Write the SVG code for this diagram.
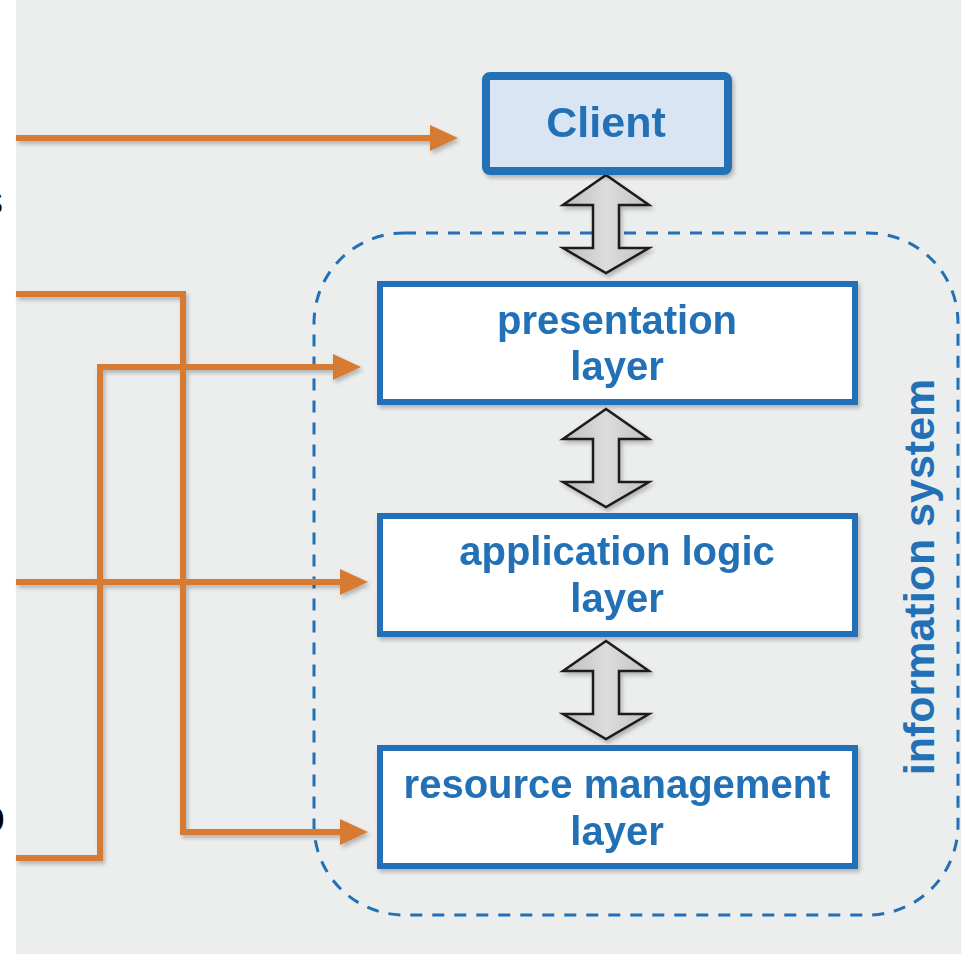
<svg xmlns="http://www.w3.org/2000/svg" width="961" height="954" viewBox="0 0 961 954">
<style>
.conn{fill:none;stroke:#D77A31;stroke-width:6}
.box{fill:#FFFFFF;stroke:#2270B5;stroke-width:6}
.lbl{font-family:"Liberation Sans",Arial,sans-serif;font-weight:bold;fill:#2270B5;text-anchor:middle}
.dbl{fill:url(#g);stroke:#1a1a1a;stroke-width:2.5;stroke-linejoin:miter}
</style>
<defs>
<linearGradient id="g" x1="0" y1="0" x2="1" y2="0">
<stop offset="0" stop-color="#bdbdbd"/>
<stop offset="0.5" stop-color="#dcdcdc"/>
<stop offset="1" stop-color="#c2c2c2"/>
</linearGradient>
<filter id="sh" x="-10%" y="-10%" width="120%" height="120%">
<feDropShadow dx="2" dy="3" stdDeviation="2" flood-color="#000" flood-opacity="0.25"/>
</filter>
<marker id="ah" markerUnits="userSpaceOnUse" markerWidth="30" markerHeight="28" refX="2" refY="13" orient="auto">
<path d="M0,0 L28,13 L0,26 z" fill="#D77A31"/>
</marker>
</defs>
<rect x="0" y="0" width="961" height="954" fill="#FFFFFF"/>
<text x="3" y="214" font-family="Liberation Sans,Arial,sans-serif" font-size="40" text-anchor="end" fill="#000">s</text>
<text x="5" y="832" font-family="Liberation Sans,Arial,sans-serif" font-size="46" text-anchor="end" fill="#000">o</text>
<rect x="16" y="0" width="945" height="954" fill="#ECEDED"/>

<g id="information-system">
<rect x="314" y="233" width="644" height="682" rx="90" ry="90" fill="none" stroke="#2270B5" stroke-width="3" stroke-dasharray="12 10"/>
<text class="lbl" font-size="43" transform="translate(934,577) rotate(-90)">information system</text>
</g>

<g id="connectors" filter="url(#sh)">
<path class="conn" d="M16,138 H432" marker-end="url(#ah)"/>
<path class="conn" d="M16,294 H183 V832 H342" marker-end="url(#ah)"/>
<path class="conn" d="M16,858 H100 V367 H335" marker-end="url(#ah)"/>
<path class="conn" d="M16,582 H342" marker-end="url(#ah)"/>
<path class="dbl" d="M606,175 L649,205 L619,205 L619,248 L649,248 L606,273 L563,248 L593,248 L593,205 L563,205 Z"/>
<path class="dbl" d="M606,409 L649,439 L619,439 L619,482 L649,482 L606,507 L563,482 L593,482 L593,439 L563,439 Z"/>
<path class="dbl" d="M606,641 L649,671 L619,671 L619,714 L649,714 L606,739 L563,714 L593,714 L593,671 L563,671 Z"/>
</g>

<g id="client" filter="url(#sh)">
<rect x="486" y="76" width="242" height="95" rx="4" fill="#DAE5F4" stroke="#2270B5" stroke-width="8"/>
<text class="lbl" x="606" y="137" font-size="43">Client</text>
</g>

<g id="presentation-layer" filter="url(#sh)">
<rect class="box" x="380" y="284" width="475" height="118"/>
<text class="lbl" x="617" y="334" font-size="40">presentation</text>
<text class="lbl" x="617" y="380" font-size="40">layer</text>
</g>

<g id="application-logic-layer" filter="url(#sh)">
<rect class="box" x="380" y="516" width="475" height="118"/>
<text class="lbl" x="617" y="565" font-size="40">application logic</text>
<text class="lbl" x="617" y="612" font-size="40">layer</text>
</g>

<g id="resource-management-layer" filter="url(#sh)">
<rect class="box" x="380" y="748" width="475" height="118"/>
<text class="lbl" x="617" y="798" font-size="40">resource management</text>
<text class="lbl" x="617" y="845" font-size="40">layer</text>
</g>
</svg>
